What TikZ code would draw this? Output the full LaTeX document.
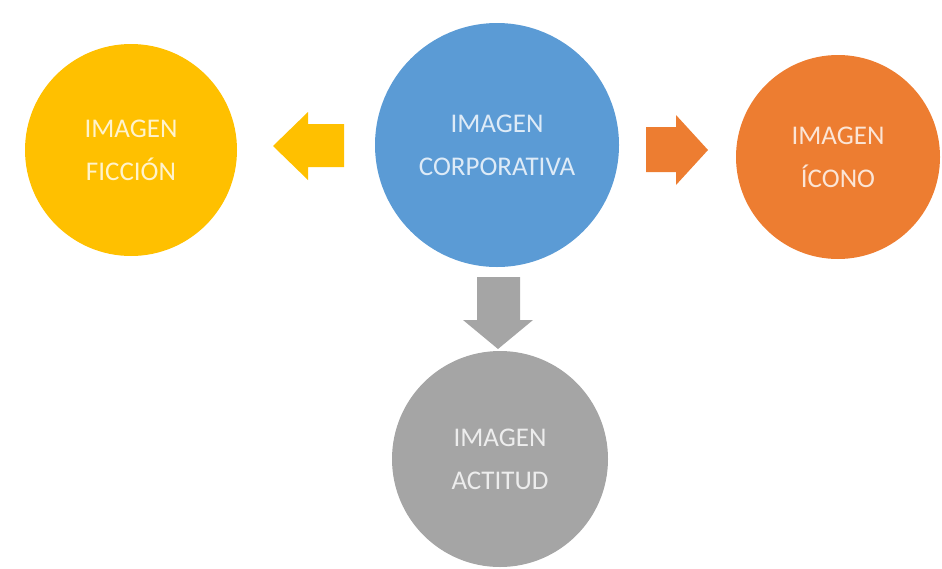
\documentclass[tikz,border=0pt]{standalone}
\usepackage{fontspec}
\setmainfont{Carlito}
\definecolor{ficcionc}{HTML}{FFC000}
\definecolor{corpc}{HTML}{5B9BD5}
\definecolor{iconoc}{HTML}{ED7D31}
\definecolor{actitudc}{HTML}{A5A5A5}
\tikzset{
  bubble/.style={%
    circle, fill=#1, draw=none, minimum size=212pt,
    text=white!80!#1, align=center,
    font=\fontsize{27}{43}\selectfont,
  },
  block/.style={fill=#1, draw=none},
}

\begin{document}
\begin{tikzpicture}[x=1pt,y=-1pt]
\useasboundingbox (0,0) rectangle (942,568);
\node[bubble=ficcionc] (ficcion) at (131,150) {IMAGEN\\FICCIÓN};
\node[bubble=corpc,minimum size=244pt] (corp) at (497,145) {IMAGEN\\CORPORATIVA};
\node[bubble=iconoc,minimum size=204pt] (icono) at (838,157) {IMAGEN\\ÍCONO};
\node[bubble=actitudc,minimum size=216pt] (actitud) at (500,459) {IMAGEN\\ACTITUD};
% block arrows
\fill[block=ficcionc] (344,124) -- (308,124) -- (308,112) -- (273,146)
  -- (308,180) -- (308,167) -- (344,167) -- cycle;
\fill[block=iconoc] (646,127) -- (676,127) -- (676,115) -- (708,150)
  -- (676,185) -- (676,172) -- (646,172) -- cycle;
\fill[block=actitudc] (477,277) -- (520,277) -- (520,320) -- (533,320)
  -- (498,349) -- (463,320) -- (477,320) -- cycle;
\end{tikzpicture}
\end{document}
